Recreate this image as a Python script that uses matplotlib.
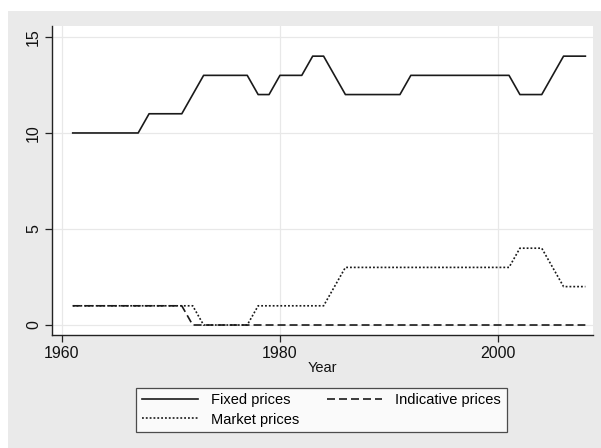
import matplotlib
matplotlib.use("Agg")
import matplotlib.pyplot as plt
from matplotlib.patches import Rectangle

years = list(range(1961, 2009))
fixed_prices = ([10]*7 + [11]*4 + [12] + [13]*5 + [12]*2 + [13]*3 + [14]*2 + [13]
                + [12]*6 + [13]*10 + [12]*3 + [13] + [14]*3)
indicative_prices = [1]*11 + [0]*37
market_prices = [1]*12 + [0]*5 + [1]*7 + [2] + [3]*16 + [4]*3 + [3] + [2]*3

xticks = [1960, 1980, 2000]
yticks = [0, 5, 10, 15]

plt.rcParams['font.family'] = ['Liberation Sans', 'DejaVu Sans']

fig = plt.figure(figsize=(6.01, 4.48), dpi=100, facecolor='white')
bg = Rectangle((8/601, 0), 1 - 8/601, 1 - 11/448, transform=fig.transFigure,
               facecolor='#eaeaea', edgecolor='none', zorder=-10)
fig.patches.append(bg)

ax = fig.add_axes([52/601, 1 - 335/448, (593-52)/601, (335-26)/448])
ax.set_facecolor('white')
col = '#1a1a1a'
l1, = ax.plot(years, fixed_prices, color=col, lw=1.2, label='Fixed prices')
l2, = ax.plot(years, indicative_prices, color=col, lw=1.2, linestyle=(0, (4.8, 2.4)),
              label='Indicative prices')
l3, = ax.plot(years, market_prices, color=col, lw=1.2, linestyle=(0, (1.1, 1.2)),
              label='Market prices')

ax.set_xlim(1959.1, 2008.7)
ax.set_ylim(-0.52, 15.57)
ax.set_xticks(xticks)
ax.set_yticks(yticks)
ax.grid(True, color='#e8e8e8', lw=0.9)
ax.set_axisbelow(True)
for s in ['top', 'right']:
    ax.spines[s].set_visible(False)
for s in ['left', 'bottom']:
    ax.spines[s].set_color('#222222')
    ax.spines[s].set_linewidth(1.0)
ax.tick_params(axis='both', direction='out', length=5, width=0.9, color='#222222',
               labelsize=11.5, labelcolor='#111111', pad=3)
for lab in ax.get_yticklabels():
    lab.set_rotation(90)
    lab.set_va('center')
ax.set_xlabel('Year', fontsize=10.5, labelpad=0, color='#111111')

leg = fig.legend(handles=[l1, l3, l2], loc='center', ncol=2,
                 bbox_to_anchor=(321.5/601, 1 - 410/448), fontsize=10.5,
                 frameon=True, fancybox=False, edgecolor='#222222',
                 handlelength=3.8, handletextpad=0.9, columnspacing=1.9,
                 borderpad=0.4, labelspacing=0.35)
leg.get_frame().set_linewidth(0.9)
leg.get_frame().set_facecolor('white')

fig.savefig('out.png', dpi=100, facecolor=fig.get_facecolor())
